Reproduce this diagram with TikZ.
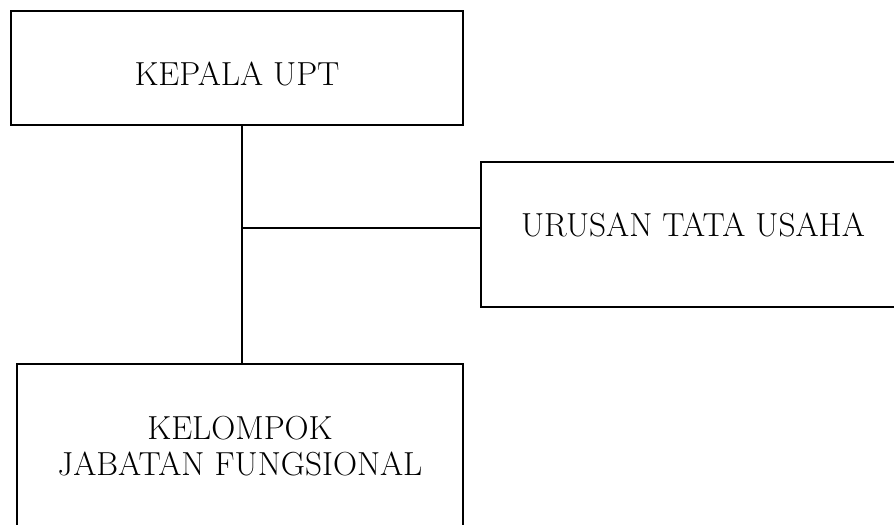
\documentclass[tikz,border=0pt]{standalone}
\usetikzlibrary{positioning}
\tikzset{
  unitbox/.style={draw,line width=1.5pt,rectangle,align=center,inner sep=0pt,
    font=\fontsize{25}{27}\selectfont},
  link/.style={line width=1.5pt}
}
\begin{document}
\begin{tikzpicture}[x=0.75pt,y=-0.75pt]
    \useasboundingbox (0,0) rectangle (894,525);

    \node[unitbox,minimum width=339pt,minimum height=85.5pt,text height=26.1pt,text depth=0pt] (kepala) at (237,68) {KEPALA UPT};
    \node[unitbox,minimum width=318pt,minimum height=108.75pt,text height=17.1pt,text depth=14.2pt] (urusan) at (693,234.5) {URUSAN TATA USAHA};
    \node[unitbox,minimum width=334.5pt,minimum height=123pt] (kelompok) at (240,446) {KELOMPOK\\JABATAN FUNGSIONAL};

    % spine of the chart, where the side branch leaves
    \coordinate (spine) at (242,228);

    \draw[link] (kepala.south -| spine) to (kelompok.north -| spine);
    \draw[link] (spine) to (spine -| urusan.west);

\end{tikzpicture}
\end{document}
